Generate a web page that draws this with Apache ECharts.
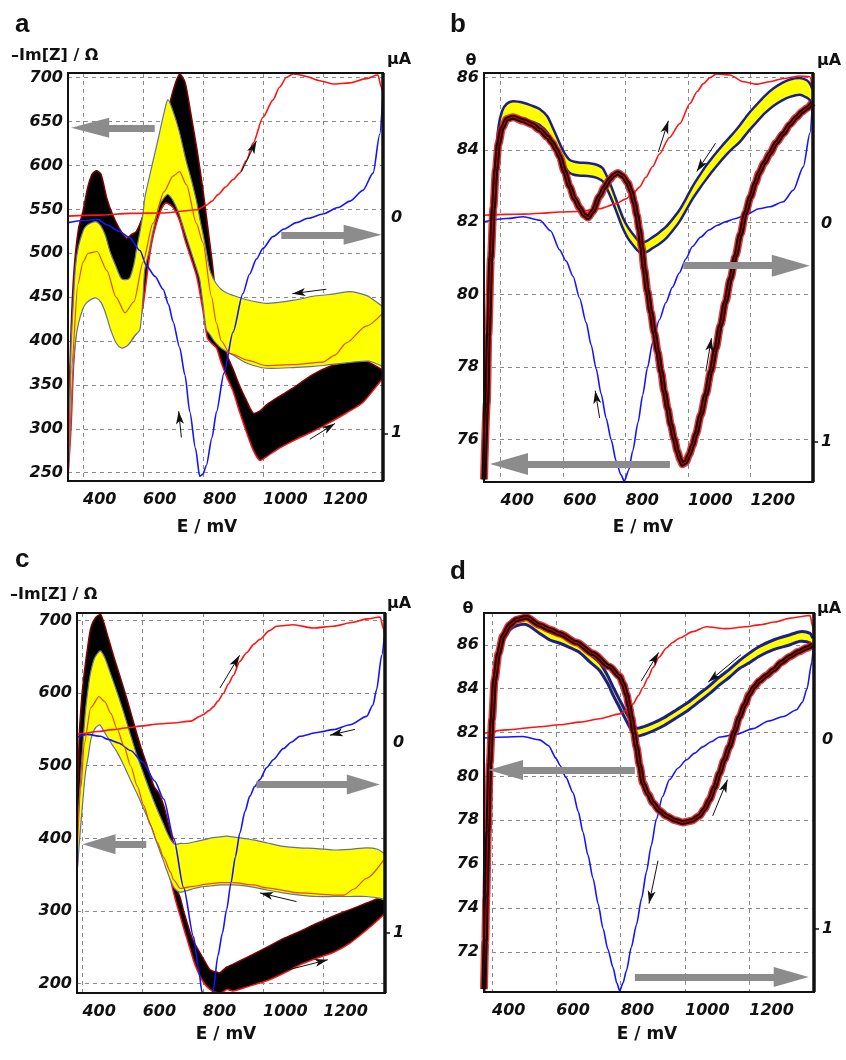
<!DOCTYPE html>
<html>
<head>
<meta charset="utf-8">
<title>Impedance and CV, panels a-d</title>
<script src="https://cdn.jsdelivr.net/npm/echarts@6/dist/echarts.min.js"></script>
<style>
  html, body { margin: 0; padding: 0; background: #fff; }
  #chart { width: 846px; height: 1060px; }
</style>
</head>
<body>
<div id="chart"></div>
<script>
// tick labels
const X_TICKS = [400, 600, 800, 1000, 1200];
const A_TICKS = [250, 300, 350, 400, 450, 500, 550, 600, 650, 700];
const B_TICKS = [76, 78, 80, 82, 84, 86];
const C_TICKS = [200, 300, 400, 500, 600, 700];
const D_TICKS = [72, 74, 76, 78, 80, 82, 84, 86];
const I_LABELS = [0, 1];

// ---------- panel a : -Im[Z] (Ohm) and current (uA) vs E (mV) ----------
const redCurA = [[350,-0.01],[450,-0.015],[560,-0.023],[670,-0.025],[780,-0.04],[810,-0.06],[830,-0.08],[850,-0.11],[875,-0.145],[900,-0.18],[922,-0.21],[945,-0.27],[967,-0.35],[1000,-0.47],[1033,-0.55],[1055,-0.61],[1078,-0.655],[1100,-0.672],[1120,-0.668],[1144,-0.66],[1189,-0.64],[1233,-0.625],[1289,-0.63],[1344,-0.65],[1383,-0.668],[1394,-0.61],[1400,-0.58]];
const blueCurA = [[350,0.02],[400,0.01],[450,0.005],[480,0.03],[520,0.06],[555,0.09],[590,0.15],[611,0.22],[640,0.27],[667,0.33],[685,0.4],[700,0.48],[722,0.6],[740,0.73],[756,0.9],[775,1.07],[789,1.2],[800,1.19],[811,1.15],[830,1.02],[845,0.9],[870,0.72],[900,0.53],[933,0.35],[955,0.26],[978,0.19],[1000,0.14],[1033,0.085],[1070,0.05],[1111,0.02],[1150,0.0],[1200,-0.02],[1250,-0.05],[1290,-0.08],[1333,-0.13],[1367,-0.21],[1389,-0.39],[1400,-0.58]];
const blackXA  = [350,360,370,385,400,415,430,445,460,480,500,520,545,560,578,600,625,650,675,700,722,740,760,780,800,815,830,845,860,878,900,922,945,967,989,1011,1055,1111,1167,1222,1278,1333,1389,1400];
const blackHiA = [290,410,480,528,548,574,590,594,590,562,543,529,517,521,525,543,575,615,650,685,704,695,658,618,572,532,492,445,415,386,368,349,332,318,320,327,337,349,362,371,376,378,369,365];
const blackLoA = [245,300,380,430,442,448,450,450,446,430,410,398,395,400,410,440,504,540,557,552,537,515,494,472,434,403,397,392,376,360,343,319,296,276,264,268,278,288,297,307,318,330,353,358];
const yellowXA  = [350,360,367,375,385,400,410,430,444,460,475,490,510,528,545,556,570,578,590,600,606,620,630,645,655,670,683,700,720,744,761,778,789,800,811,822,833,845,860,878,900,945,1011,1111,1167,1222,1278,1300,1344,1356,1400];
const yellowHiA = [250,390,440,485,508,525,531,535,536,531,520,502,485,471,470,472,488,504,525,545,563,585,600,622,637,660,675,662,640,605,584,560,540,522,502,482,472,465,459,455,452,447,443,447,451,453,456,456,452,450,439];
const yellowLoA = [242,320,371,400,420,437,443,448,449,444,432,415,398,392,394,398,405,408,413,450,481,502,520,542,555,563,567,560,545,519,501,483,470,442,413,408,402,397,392,388,384,375,369,370,371,373,375,376,377,377,371];
const midA = [[350,245],[362,370],[383,465],[400,490],[417,500],[447,502],[480,480],[510,450],[540,432],[570,445],[600,490],[633,534],[670,570],[700,588],[722,593],[745,578],[778,534],[800,512],[828,451],[845,420],[861,400],[889,386],[950,378],[1011,372],[1100,373],[1200,376],[1240,384],[1278,398],[1344,417],[1400,432]];
const greyArrowsA  = [[[639,643],[424,643]], [[1061,521],[1332,521]]];
const smallArrowsA = [[[928,593],[978,628]], [[1211,459],[1098,454]], [[728,290],[719,320]], [[1156,288],[1240,306]]];

// ---------- panel b : theta (deg) and current (uA) vs E (mV) ----------
const redCurB = [[347,-0.041],[420,-0.045],[473,-0.046],[530,-0.05],[589,-0.056],[653,-0.058],[717,-0.071],[770,-0.094],[800,-0.115],[823,-0.139],[845,-0.17],[865,-0.215],[887,-0.265],[908,-0.321],[940,-0.397],[974,-0.462],[1006,-0.554],[1030,-0.61],[1049,-0.645],[1070,-0.672],[1091,-0.69],[1134,-0.685],[1177,-0.654],[1219,-0.643],[1262,-0.654],[1305,-0.669],[1358,-0.68],[1390,-0.677],[1400,-0.6]];
const blueCurB = [[347,-0.011],[419,-0.026],[473,-0.034],[526,-0.018],[560,0.03],[589,0.118],[610,0.17],[632,0.239],[653,0.34],[674,0.452],[690,0.555],[706,0.664],[722,0.78],[738,0.891],[754,0.99],[770,1.088],[785,1.15],[796,1.18],[810,1.13],[823,1.042],[840,0.91],[855,0.785],[870,0.66],[887,0.542],[908,0.44],[929,0.361],[950,0.29],[972,0.224],[993,0.16],[1014,0.103],[1040,0.06],[1067,0.027],[1094,0.005],[1120,-0.011],[1150,-0.025],[1184,-0.041],[1227,-0.071],[1262,-0.08],[1305,-0.103],[1337,-0.156],[1369,-0.263],[1390,-0.417],[1400,-0.6]];
const blackB = [[347,74.9],[356,77.0],[361,78.9],[369,81.0],[377,82.4],[385,83.45],[393,84.15],[405,84.6],[420,84.85],[440,84.9],[473,84.8],[500,84.7],[526,84.55],[550,84.35],[565,84.2],[579,84.0],[589,83.82],[605,83.4],[621,82.99],[637,82.65],[653,82.4],[668,82.2],[680,82.13],[695,82.3],[717,82.72],[733,82.97],[749,83.18],[762,83.3],[775,83.36],[791,83.28],[807,83.09],[818,82.85],[828,82.54],[836,82.2],[844,81.81],[852,81.3],[860,80.71],[870,80.1],[881,79.52],[892,78.95],[903,78.42],[914,77.87],[924,77.33],[935,76.85],[945,76.41],[956,76.02],[966,75.68],[975,75.45],[982,75.32],[993,75.38],[1004,75.59],[1015,75.85],[1025,76.14],[1041,76.68],[1057,77.24],[1073,77.88],[1089,78.52],[1104,79.16],[1120,79.8],[1136,80.44],[1152,81.07],[1168,81.67],[1184,82.26],[1200,82.7],[1216,83.09],[1227,83.36],[1245,83.65],[1262,83.9],[1283,84.2],[1305,84.45],[1326,84.7],[1347,84.9],[1365,85.05],[1380,85.15],[1398,85.3]];
const yellowXB  = [347,356,361,369,377,385,393,405,420,440,473,500,526,550,565,579,589,605,620,632,650,685,710,727,743,759,775,791,807,823,837,850,868,887,908,929,950,972,993,1014,1036,1057,1078,1099,1120,1142,1166,1193,1219,1246,1273,1300,1326,1358,1380,1390,1398];
const yellowHiB = [75.8,77.5,79.1,81.0,82.6,83.8,84.62,85.07,85.27,85.34,85.3,85.22,85.12,84.92,84.65,84.38,84.18,83.9,83.73,83.68,83.65,83.63,83.58,83.49,83.22,82.88,82.5,82.14,81.87,81.68,81.53,81.45,81.48,81.59,81.72,81.87,82.08,82.33,82.64,82.98,83.28,83.55,83.79,84.01,84.22,84.43,84.68,84.99,85.24,85.49,85.69,85.84,85.94,85.98,85.92,85.83,85.68];
const yellowLoB = [75.4,77.1,78.7,80.6,82.2,83.4,84.18,84.63,84.83,84.9,84.86,84.78,84.68,84.48,84.25,84.02,83.82,83.54,83.37,83.32,83.29,83.27,83.22,83.13,82.88,82.56,82.2,81.84,81.57,81.38,81.23,81.15,81.18,81.29,81.4,81.55,81.76,82.01,82.32,82.64,82.92,83.17,83.41,83.63,83.84,84.03,84.22,84.51,84.76,85.01,85.21,85.36,85.46,85.52,85.44,85.37,85.22];
const greyArrowsB  = [[[942,75.33],[427,75.33]], [[985,80.8],[1329,80.8]]];
const smallArrowsB = [[[717,76.6],[703,77.35]], [[1057,77.88],[1075,78.8]], [[905,83.94],[937,84.8]], [[1088,84.18],[1028,83.4]]];

// ---------- panel c : -Im[Z] (Ohm) and current (uA) vs E (mV) ----------
const redCurC = [[382,-0.045],[400,-0.05],[450,-0.06],[500,-0.07],[550,-0.08],[600,-0.09],[650,-0.1],[700,-0.105],[760,-0.115],[790,-0.14],[802,-0.15],[820,-0.17],[835,-0.19],[850,-0.22],[868,-0.26],[885,-0.31],[901,-0.355],[923,-0.43],[945,-0.475],[970,-0.52],[989,-0.545],[1020,-0.59],[1045,-0.614],[1100,-0.622],[1167,-0.605],[1233,-0.614],[1300,-0.635],[1344,-0.653],[1389,-0.663],[1400,-0.6],[1405,-0.55]];
const blueCurC = [[382,-0.03],[416,-0.045],[461,-0.035],[483,-0.02],[520,0.0],[560,0.04],[600,0.1],[640,0.2],[670,0.295],[703,0.5],[736,0.76],[769,1.02],[786,1.19],[797,1.31],[815,1.34],[834,1.31],[850,1.12],[865,1.0],[879,0.877],[893,0.74],[908,0.6],[923,0.474],[940,0.36],[956,0.28],[972,0.23],[989,0.193],[1012,0.13],[1034,0.088],[1067,0.03],[1095,-0.005],[1122,-0.035],[1180,-0.055],[1233,-0.07],[1289,-0.096],[1344,-0.14],[1365,-0.2],[1377,-0.28],[1394,-0.46],[1405,-0.6]];
const blackXC  = [382,389,397,406,417,428,444,461,483,505,527,549,571,593,615,637,654,670,681,692,703,714,725,736,747,758,769,780,791,802,813,824,835,846,857,868,880,901,950,1012,1067,1122,1178,1233,1289,1344,1380,1405];
const blackHiC = [420,536,590,627,662,690,704,708,680,649,620,590,558,527,500,472,462,445,428,410,392,330,318,300,285,270,258,250,242,234,226,219,217,216,215,219,223,227,237,250,262,272,283,293,302,311,317,320];
const blackLoC = [350,420,500,530,550,560,565,563,552,540,525,505,485,465,445,425,410,395,375,345,325,308,293,277,262,247,232,220,210,202,196,192,189,188,187,189,192,190,196,204,214,226,235,243,256,274,287,297];
const yellowXC  = [382,389,400,410,420,428,440,455,461,475,494,516,538,560,582,604,626,648,670,681,692,703,714,725,747,769,791,813,835,857,879,901,934,967,1012,1067,1122,1178,1233,1289,1344,1380,1405];
const yellowHiC = [400,450,520,575,610,630,648,657,658,648,626,600,572,542,513,488,463,440,419,408,399,393,392,393,393,395,397,399,401,402,403,402,400,398,394,389,387,386,384,385,387,385,378];
const yellowLoC = [350,390,445,490,515,536,550,556,555,545,532,518,500,480,461,440,419,393,368,355,343,333,328,326,328,331,333,334,335,336,336,336,335,333,329,325,322,320,320,320,320,318,316];
const midC = [[382,375],[395,470],[406,530],[428,580],[455,595],[475,588],[494,572],[516,550],[538,527],[560,500],[582,472],[604,445],[626,418],[648,395],[670,374],[692,354],[703,343],[725,331],[769,334],[813,337],[857,339],[901,339],[967,336],[1012,332],[1122,325],[1233,322],[1270,322],[1300,330],[1344,345],[1405,373]];
const greyArrowsC  = [[[612,392],[455,392]], [[978,474],[1333,474]]];
const smallArrowsC = [[[857,607],[922,652]], [[1305,550],[1222,542]], [[1111,313],[990,325]], [[1083,219],[1215,233]]];

// ---------- panel d : theta (deg) and current (uA) vs E (mV) ----------
const redCurD = [[375,-0.035],[445,-0.053],[548,-0.07],[611,-0.08],[673,-0.094],[735,-0.112],[797,-0.138],[820,-0.16],[838,-0.19],[855,-0.235],[869,-0.278],[885,-0.33],[900,-0.383],[920,-0.44],[942,-0.487],[960,-0.515],[983,-0.54],[1024,-0.574],[1066,-0.6],[1128,-0.59],[1190,-0.6],[1231,-0.61],[1280,-0.625],[1327,-0.646],[1389,-0.66],[1397,-0.6],[1401,-0.55]];
const blueCurD = [[375,-0.01],[496,-0.018],[548,0.0],[575,0.03],[600,0.1],[611,0.135],[630,0.2],[652,0.28],[668,0.38],[683,0.49],[698,0.61],[714,0.735],[730,0.87],[745,1.0],[760,1.11],[776,1.206],[788,1.29],[797,1.33],[807,1.29],[818,1.223],[833,1.1],[849,0.98],[865,0.84],[880,0.7],[895,0.56],[911,0.42],[930,0.3],[952,0.21],[978,0.15],[1004,0.107],[1030,0.07],[1055,0.037],[1081,0.01],[1107,-0.015],[1159,-0.03],[1211,-0.06],[1260,-0.1],[1306,-0.124],[1347,-0.16],[1365,-0.2],[1379,-0.27],[1394,-0.41],[1401,-0.55]];
const blackD = [[375,70.3],[379,72.5],[382,74.5],[387,77.5],[393,80.6],[400,82.6],[408,84.4],[420,85.6],[434,86.4],[455,86.9],[476,87.14],[507,87.26],[548,86.9],[580,86.7],[611,86.5],[663,86.1],[714,85.6],[766,85.0],[797,84.55],[808,84.2],[818,83.75],[826,83.2],[833,82.7],[841,82.0],[849,81.35],[859,80.5],[869,79.7],[885,79.2],[900,78.8],[920,78.45],[942,78.2],[968,78.0],[993,77.9],[1020,77.98],[1045,78.2],[1060,78.5],[1076,78.94],[1092,79.5],[1107,80.14],[1122,80.75],[1138,81.35],[1154,82.05],[1169,82.7],[1185,83.25],[1200,83.75],[1215,84.08],[1231,84.35],[1253,84.6],[1275,84.86],[1300,85.2],[1327,85.47],[1352,85.68],[1378,85.85],[1397,86.0]];
const yellowXD  = [375,379,382,387,393,400,408,420,434,455,476,507,548,580,611,642,673,704,735,760,776,797,818,835,849,870,900,935,973,1010,1045,1076,1107,1138,1169,1200,1231,1275,1327,1358,1389,1397];
const yellowHiD = [70.58,72.68,74.68,77.58,80.68,82.68,84.48,85.68,86.48,87.03,87.23,87.28,86.88,86.58,86.43,86.23,86.0,85.58,85.18,84.58,84.08,83.48,82.88,82.43,82.2,82.26,82.43,82.68,83.03,83.38,83.78,84.13,84.53,84.88,85.28,85.62,85.92,86.22,86.46,86.6,86.52,86.3];
const yellowLoD = [70.22,72.32,74.32,77.22,80.32,82.32,84.12,85.32,86.12,86.67,86.87,86.92,86.52,86.22,86.07,85.87,85.64,85.22,84.82,84.22,83.72,83.12,82.52,82.07,81.84,81.9,82.07,82.32,82.67,83.02,83.42,83.77,84.17,84.52,84.92,85.18,85.48,85.78,86.0,86.16,86.08,85.86];
const greyArrowsD  = [[[844,80.29],[442,80.29]], [[844,70.85],[1330,70.85]]];
const smallArrowsD = [[[864,84.35],[918,85.65]], [[1174,85.55],[1072,84.3]], [[1086,78.2],[1132,79.85]], [[916,76.16],[888,74.2]]];

// ---------- layout ----------
const panels = [
  { box: [68, 73, 315, 408],  xr: [350, 1400], yl: [240.5, 705.4], yr: [-0.676, 1.222], ticks: A_TICKS, wide: true,
    red: redCurA, blue: blueCurA, black: [blackXA, blackLoA, blackHiA], yellow: [yellowXA, yellowLoA, yellowHiA], mid: midA,
    grey: greyArrowsA, small: smallArrowsA, head: [20, 38] },
  { box: [484, 73, 329, 409], xr: [347, 1400], yl: [74.83, 86.12], yr: [-0.694, 1.184], ticks: B_TICKS, wide: false,
    red: redCurB, blue: blueCurB, black: blackB, yellow: [yellowXB, yellowLoB, yellowHiB], edge: 2.5,
    grey: greyArrowsB, small: smallArrowsB, head: [22, 38] },
  { box: [77, 613, 308, 380], xr: [382, 1405], yl: [187.2, 710.2], yr: [-0.684, 1.316], ticks: C_TICKS, wide: true,
    red: redCurC, blue: blueCurC, black: [blackXC, blackLoC, blackHiC], yellow: [yellowXC, yellowLoC, yellowHiC], mid: midC,
    grey: greyArrowsC, small: smallArrowsC, head: [20, 33] },
  { box: [484, 613, 330, 379], xr: [375, 1401], yl: [70.17, 87.45], yr: [-0.673, 1.337], ticks: D_TICKS, wide: false,
    red: redCurD, blue: blueCurD, black: blackD, yellow: [yellowXD, yellowLoD, yellowHiD], edge: 3,
    grey: greyArrowsD, small: smallArrowsD, head: [20, 35] }
];

const NUM = { fontFamily: 'DejaVu Sans', fontWeight: 'bold', fontStyle: 'italic', fontSize: 16, color: '#111',
              formatter: v => String(v) };
const DASH = { color: '#8a8a8a', width: 1, type: [4, 4] };
const SMOOTH = 0.25;

function line(i, yi, data, color, width, extra) {
  return Object.assign({
    type: 'line', xAxisIndex: i, yAxisIndex: yi, data: data,
    symbol: 'none', smooth: SMOOTH, smoothMonotone: 'x',
    silent: true, emphasis: { disabled: true },
    lineStyle: { color: color, width: width }
  }, extra || {});
}

// filled envelope between lo and hi, drawn as one polygon through the axes' scales
function band(i, xyz, fill, hiEdge, loEdge, edgeW) {
  const [xs, lo, hi] = xyz;
  const rows = xs.map((x, k) => [x, lo[k], hi[k]]);
  return {
    type: 'custom', xAxisIndex: i, yAxisIndex: i * 2, data: rows, clip: true, silent: true,
    dimensions: ['E', 'lo', 'hi'], encode: { x: 0, y: [1, 2] },
    renderItem: (params, api) => {
      if (params.dataIndex !== 0) return null;
      const top = rows.map(r => api.coord([r[0], r[2]]));
      const bot = rows.map(r => api.coord([r[0], r[1]]));
      return { type: 'group', children: [
        { type: 'polygon', shape: { points: bot.concat(top.slice().reverse()), smooth: SMOOTH },
          style: { fill: fill, stroke: null } },
        { type: 'polyline', shape: { points: bot, smooth: SMOOTH },
          style: { fill: null, stroke: loEdge, lineWidth: edgeW } },
        { type: 'polyline', shape: { points: top, smooth: SMOOTH },
          style: { fill: null, stroke: hiEdge, lineWidth: edgeW } }
      ] };
    }
  };
}

function arrows(p) {
  const data = [];
  p.grey.forEach(([a, b]) => data.push([
    { coord: a, symbol: 'none', lineStyle: { color: '#8c8c8c', width: 7, type: 'solid' } },
    { coord: b, symbol: 'triangle', symbolSize: p.head }
  ]));
  p.small.forEach(([a, b]) => data.push([
    { coord: a, symbol: 'none', lineStyle: { color: '#111', width: 1, type: 'solid' } },
    { coord: b, symbol: 'arrow', symbolSize: [6, 13] }
  ]));
  return { silent: true, animation: false, symbol: ['none', 'none'], label: { show: false },
           emphasis: { disabled: true }, data: data };
}

const series = [];
panels.forEach((p, i) => {
  const L = i * 2, R = i * 2 + 1;
  series.push(line(i, R, p.red, '#ff1414', 1.6));
  series.push(line(i, R, p.blue, '#1414ff', 1.6));
  if (p.wide) {
    series.push(band(i, p.black, '#000', '#800000', '#ff1010', 1.5));
    series.push(band(i, p.yellow, '#ffff00', '#66709f', '#66709f', 1.2));
    series.push(line(i, L, p.mid, '#e34c00', 1.2, { markLine: arrows(p) }));
  } else {
    series.push(line(i, L, p.black, '#d81818', 8, { lineStyle: { color: '#d81818', width: 8, opacity: 0.85 } }));
    series.push(line(i, L, p.black, '#160000', 5));
    series.push(line(i, L, p.black, '#c00000', 1.2, { markLine: arrows(p) }));
    series.push(band(i, p.yellow, '#ffff00', '#1b1f8c', '#1b1f8c', p.edge));
  }
});

const grid = panels.map(p => ({ left: p.box[0], top: p.box[1], width: p.box[2], height: p.box[3] }));

const xAxis = panels.map((p, i) => ({
  type: 'value', gridIndex: i, min: p.xr[0], max: p.xr[1],
  axisLine: { show: false },
  axisTick: { show: false, customValues: X_TICKS },
  axisLabel: Object.assign({ customValues: X_TICKS, align: 'left', margin: 11 }, NUM),
  splitLine: { show: true, lineStyle: DASH }
}));

const yAxis = [];
panels.forEach((p, i) => {
  yAxis.push({
    type: 'value', gridIndex: i, position: 'left', min: p.yl[0], max: p.yl[1],
    axisLine: { show: false },
    axisTick: { show: false, customValues: p.ticks },
    axisLabel: Object.assign({ customValues: p.ticks, margin: 5 }, NUM),
    splitLine: { show: true, lineStyle: DASH }
  });
  yAxis.push({
    type: 'value', gridIndex: i, position: 'right', inverse: true, min: p.yr[0], max: p.yr[1],
    axisLine: { show: false },
    axisTick: { show: true, customValues: [1], length: 5, lineStyle: { color: '#111', width: 1.5 } },
    axisLabel: Object.assign({ customValues: I_LABELS, margin: 8 }, NUM),
    splitLine: { show: false }
  });
});

// frames and titles
const graphic = [];
panels.forEach(p => {
  const [x, y, w, h] = p.box;
  graphic.push({ type: 'rect', z: 100, silent: true, shape: { x: x, y: y, width: w, height: h },
                 style: { fill: 'none', stroke: '#111', lineWidth: 2 } });
  graphic.push({ type: 'line', z: 101, silent: true, shape: { x1: x + w, y1: y, x2: x + w, y2: y + h },
                 style: { stroke: '#111', lineWidth: 3.5 } });
});
function txt(text, x, y, size, family, align) {
  return { type: 'text', z: 100, silent: true, x: x, y: y,
           style: { text: text, fontSize: size, fontWeight: 'bold', fontFamily: family, fill: '#111',
                    align: align || 'left', verticalAlign: 'middle' } };
}
const SANS = 'Liberation Sans', DJ = 'DejaVu Sans';
graphic.push(
  txt('a', 15, 25, 26, SANS), txt('b', 450, 25, 26, SANS),
  txt('c', 15, 560, 26, SANS), txt('d', 450, 572, 26, SANS),
  txt('\u2013Im[Z] / \u03A9', 11, 56, 16, DJ), txt('\u2013Im[Z] / \u03A9', 10, 595, 16, DJ),
  txt('\u03B8', 471, 61, 16, DJ, 'center'), txt('\u03B8', 468, 609, 16, DJ, 'center'),
  txt('\u00B5A', 387, 60, 16, DJ), txt('\u00B5A', 817, 61, 16, DJ),
  txt('\u00B5A', 387, 604, 16, DJ), txt('\u00B5A', 817, 609, 16, DJ),
  txt('E / mV', 207, 528, 17, DJ, 'center'), txt('E / mV', 643, 528, 17, DJ, 'center'),
  txt('E / mV', 226, 1035, 17, DJ, 'center'), txt('E / mV', 647, 1035, 17, DJ, 'center')
);

const chart = echarts.init(document.getElementById('chart'), null, { renderer: 'canvas' });
chart.setOption({
  animation: false,
  backgroundColor: '#fff',
  grid: grid,
  xAxis: xAxis,
  yAxis: yAxis,
  series: series,
  graphic: graphic
});
</script>
</body>
</html>
